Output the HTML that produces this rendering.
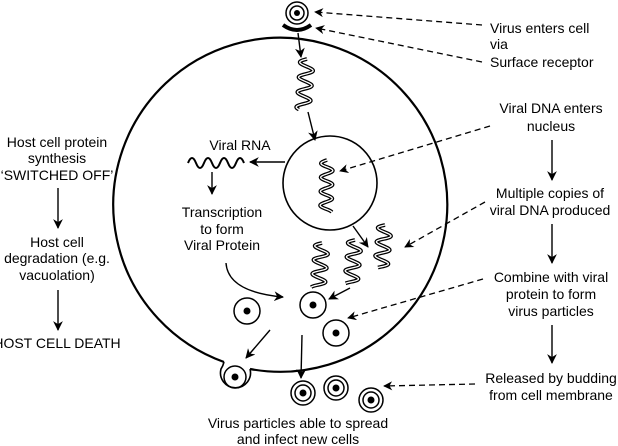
<!DOCTYPE html>
<html><head><meta charset="utf-8"><style>
html,body{margin:0;padding:0;background:#fff;}
svg{display:block;font-family:"Liberation Sans","DejaVu Sans",sans-serif;font-size:14px;}
</style></head><body>
<svg id="s" width="618" height="446" viewBox="0 0 618 446" xmlns="http://www.w3.org/2000/svg">
<defs>
<marker id="a" viewBox="0 0 10 10" refX="9" refY="5" markerWidth="7" markerHeight="7" orient="auto"><path d="M0,0 L10,5 L0,10 L3,5 z" fill="#000"/></marker>
</defs>
<path d="M224,362 A167,167 0 1 1 250,369" fill="none" stroke="#000" stroke-width="2.2"/>
<path d="M224,362 Q223,366 221,369 A15,15 0 1 0 250,369" fill="none" stroke="#000" stroke-width="1.6"/>
<circle cx="235" cy="377" r="11" fill="none" stroke="#000" stroke-width="1.5"/>
<circle cx="235" cy="377" r="3.5" fill="#000"/>
<circle cx="330" cy="183" r="47" fill="none" stroke="#000" stroke-width="1.6"/>
<circle cx="297" cy="13" r="11" fill="none" stroke="#000" stroke-width="1.5"/>
<circle cx="297" cy="13" r="7" fill="none" stroke="#000" stroke-width="1.5"/>
<circle cx="297" cy="13" r="3" fill="#000"/>
<path d="M283,25 Q297,35 311,25" fill="none" stroke="#000" stroke-width="4"/>
<g id="hel" fill="none"></g>
<path d="M188,163 q4,-10 8,0 t8,0 t8,0 t8,0 t8,0 t8,0 t8,0" fill="none" stroke="#000" stroke-width="2" transform="translate(188,163) scale(1,1) translate(-188,-163)"/>
<g fill="none" stroke="#000" stroke-width="1.5">
<circle cx="247" cy="311" r="13"/><circle cx="313" cy="305" r="13"/><circle cx="336" cy="333" r="13"/>
<circle cx="303" cy="393" r="12"/><circle cx="303" cy="393" r="8"/>
<circle cx="336" cy="388" r="12"/><circle cx="336" cy="388" r="8"/>
<circle cx="371" cy="400" r="12"/><circle cx="371" cy="400" r="8"/>
</g>
<g fill="#000">
<circle cx="247" cy="311" r="3.5"/><circle cx="313" cy="305" r="3.5"/><circle cx="336" cy="333" r="3.5"/>
<circle cx="303" cy="393" r="3.5"/><circle cx="336" cy="388" r="3.5"/><circle cx="371" cy="400" r="3.5"/>
</g>
<g stroke="#000" stroke-width="1.4" fill="none" marker-end="url(#a)">
<line x1="298" y1="33" x2="301" y2="57"/>
<line x1="308" y1="112" x2="315" y2="140"/>
<line x1="285" y1="162" x2="250" y2="162"/>
<line x1="212" y1="172" x2="212" y2="194"/>
<line x1="353" y1="226" x2="368" y2="247"/>
<path d="M226,263 Q228,292 283,297"/>
<line x1="350" y1="288" x2="329" y2="299"/>
<line x1="270" y1="330" x2="246" y2="358"/>
<line x1="302" y1="335" x2="301" y2="378"/>
<line x1="552" y1="140" x2="552" y2="180"/>
<line x1="552" y1="224" x2="552" y2="263"/>
<line x1="552" y1="325" x2="552" y2="363"/>
<line x1="58" y1="188" x2="58" y2="228"/>
<line x1="58" y1="290" x2="58" y2="330"/>
</g>
<g stroke="#000" stroke-width="1.3" fill="none" stroke-dasharray="6,4" marker-end="url(#a)">
<line x1="482" y1="25" x2="315" y2="12"/>
<line x1="482" y1="62" x2="316" y2="28"/>
<line x1="490" y1="126" x2="340" y2="171"/>
<line x1="485" y1="202" x2="405" y2="247"/>
<line x1="483" y1="279" x2="348" y2="318"/>
<line x1="475" y1="384" x2="384" y2="386"/>
</g>
<g fill="#000">
<text x="490" y="33">Virus enters cell</text>
<text x="490" y="49">via</text>
<text x="490" y="67">Surface receptor</text>
<g text-anchor="middle">
<text x="551" y="113">Viral DNA enters</text>
<text x="551" y="131">nucleus</text>
<text x="550" y="198">Multiple copies of</text>
<text x="550" y="215">viral DNA produced</text>
<text x="551" y="282">Combine with viral</text>
<text x="551" y="299">protein to form</text>
<text x="551" y="316">virus particles</text>
<text x="551" y="383">Released by budding</text>
<text x="551" y="400">from cell membrane</text>
<text x="57" y="147">Host cell protein</text>
<text x="57" y="163">synthesis</text>
<text x="57" y="180">‘SWITCHED OFF’</text>
<text x="57" y="247">Host cell</text>
<text x="57" y="263">degradation (e.g.</text>
<text x="57" y="280">vacuolation)</text>
<text x="57" y="348">HOST CELL DEATH</text>
<text x="240" y="150">Viral RNA</text>
<text x="222" y="217">Transcription</text>
<text x="222" y="234">to form</text>
<text x="222" y="250">Viral Protein</text>
<text x="298" y="428">Virus particles able to spread</text>
<text x="298" y="444">and infect new cells</text>
</g>
</g>
<script>
(function(){
var g=document.getElementById('hel');
function helix(x1,y1,x2,y2,amp,per){
 var dx=x2-x1,dy=y2-y1,L=Math.sqrt(dx*dx+dy*dy),ux=dx/L,uy=dy/L,nx=-uy,ny=ux,d='';
 for(var t=0;t<=L;t+=0.5){var o=amp*Math.sin(t/per*2*Math.PI);var x=x1+ux*t+nx*o,y=y1+uy*t+ny*o;d+=(t?'L':'M')+x.toFixed(2)+','+y.toFixed(2);}
 var p1=document.createElementNS('http://www.w3.org/2000/svg','path');p1.setAttribute('d',d);p1.setAttribute('stroke','#000');p1.setAttribute('stroke-width','3.8');p1.setAttribute('fill','none');g.appendChild(p1);
 var p2=document.createElementNS('http://www.w3.org/2000/svg','path');p2.setAttribute('d',d);p2.setAttribute('stroke','#fff');p2.setAttribute('stroke-width','1.3');p2.setAttribute('fill','none');g.appendChild(p2);
}
helix(307,59,303,110,7,15);
helix(327,160,326,212,6,14);
helix(322,243,318,288,7,14);
helix(355,240,351,284,7,14);
helix(385,225,381,268,7,14);
})();
</script>
</svg>
</body></html>
